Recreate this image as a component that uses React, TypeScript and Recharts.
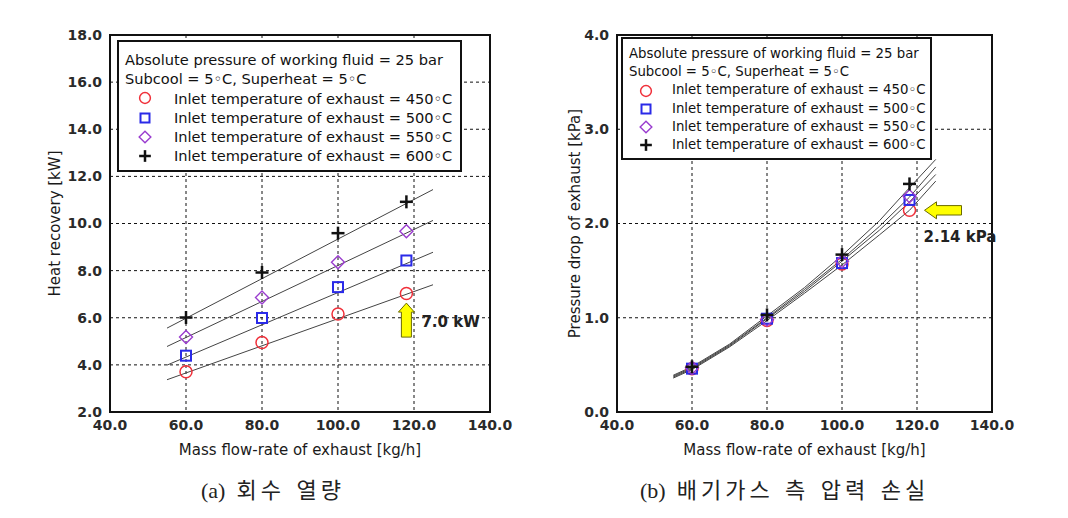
import React from 'react';
import { ComposedChart, Scatter, XAxis, YAxis, CartesianGrid, ReferenceArea, ReferenceDot, Legend } from 'recharts';

// flow-rate points (kg/h)
const flowRates = [60, 80, 100, 118];

// (a) heat recovery [kW]
const heat450 = [3.71, 4.95, 6.16, 7.03];
const heat500 = [4.39, 5.99, 7.3, 8.43];
const heat550 = [5.18, 6.86, 8.36, 9.67];
const heat600 = [6.01, 7.92, 9.59, 10.92];

// (a) fitted lines, read at both ends
const fitX = [55, 125];
const heatFit450 = [3.37, 7.4];
const heatFit500 = [3.99, 8.78];
const heatFit550 = [4.78, 10.13];
const heatFit600 = [5.56, 11.44];

// (b) pressure drop [kPa]
const drop450 = [0.46, 0.97, 1.57, 2.14];
const drop500 = [0.46, 0.99, 1.58, 2.25];
const drop550 = [0.47, 0.98, 1.6, 2.29];
const drop600 = [0.48, 1.03, 1.67, 2.42];

// (b) fitted curves
const curveX = [55, 60, 70, 80, 90, 100, 110, 118, 125];
const dropFit450 = [0.36, 0.45, 0.69, 0.97, 1.26, 1.56, 1.88, 2.14, 2.45];
const dropFit500 = [0.37, 0.46, 0.7, 0.99, 1.28, 1.6, 1.93, 2.23, 2.52];
const dropFit550 = [0.38, 0.47, 0.71, 1.0, 1.3, 1.62, 1.97, 2.28, 2.6];
const dropFit600 = [0.39, 0.48, 0.72, 1.02, 1.32, 1.66, 2.03, 2.38, 2.68];

const xTicks = [40, 60, 80, 100, 120, 140];
const heatTicks = [2, 4, 6, 8, 10, 12, 14, 16, 18];
const dropTicks = [0, 1, 2, 3, 4];
const inletTemps = ['450', '500', '550', '600'];
const markerKinds = ['circle', 'square', 'diamond', 'plus'];

const FONT = "'DejaVu Sans', Verdana, sans-serif";

const toPoints = (xs: number[], ys: number[]) => xs.map((x, i) => ({ x, y: ys[i] }));

const Marker = ({ kind, cx, cy, s = 1 }: { kind: string; cx: number; cy: number; s?: number }) => {
  if (kind === 'circle') return <circle cx={cx} cy={cy} r={6 * s} fill="none" stroke="#f0303a" strokeWidth={1.5} />;
  if (kind === 'square')
    return <rect x={cx - 5 * s} y={cy - 5 * s} width={10 * s} height={10 * s} fill="none" stroke="#2a2ae8" strokeWidth={2} />;
  if (kind === 'diamond') {
    const d = 6.5 * s;
    return (
      <polygon
        points={`${cx},${cy - d} ${cx + d},${cy} ${cx},${cy + d} ${cx - d},${cy}`}
        fill="none"
        stroke="#9a3ccf"
        strokeWidth={1.4}
      />
    );
  }
  const a = 6.5 * s;
  return (
    <g stroke="#111" strokeWidth={2.5}>
      <line x1={cx - a} y1={cy} x2={cx + a} y2={cy} />
      <line x1={cx} y1={cy - a} x2={cx} y2={cy + a} />
    </g>
  );
};

const LegendBox = ({ fs, lh, markX, textX, padTop }: { fs: number; lh: number; markX: number; textX: number; padTop: number }) => (
  <div
    style={{
      border: '2px solid #111',
      background: '#fff',
      fontFamily: FONT,
      fontSize: fs,
      color: '#111',
      lineHeight: `${lh}px`,
      padding: `${padTop}px 0 4px 6px`,
      whiteSpace: 'nowrap',
    }}
  >
    <div>Absolute pressure of working fluid = 25 bar</div>
    <div>Subcool = 5◦C, Superheat = 5◦C</div>
    {inletTemps.map((t, i) => (
      <div key={t} style={{ position: 'relative', height: lh }}>
        <svg width={18} height={18} style={{ position: 'absolute', left: markX - 9 - 6, top: lh / 2 - 9 }}>
          <Marker kind={markerKinds[i]} cx={9} cy={9} s={0.9} />
        </svg>
        <span style={{ position: 'absolute', left: textX - 6 }}>Inlet temperature of exhaust = {t}◦C</span>
      </div>
    ))}
  </div>
);

const tickStyle = { fontFamily: FONT, fontSize: 14, fontWeight: 'bold', fill: '#2a2a2a' };
const titleStyle = { fontFamily: FONT, fontSize: 15, fill: '#1a1a1a', textAnchor: 'middle' as const };

const fmt = (v: number) => v.toFixed(1);

const UpArrow = (p: any) => {
  const { cx, cy } = p;
  return (
    <g>
      <polygon
        points={`${cx},${cy - 17} ${cx + 8},${cy - 8} ${cx + 5},${cy - 8} ${cx + 5},${cy + 17} ${cx - 5},${cy + 17} ${cx - 5},${cy - 8} ${cx - 8},${cy - 8}`}
        fill="#ffff00"
        stroke="#6b6b00"
        strokeWidth={1}
      />
      <text x={cx + 15} y={cy + 7} fontFamily={FONT} fontWeight="bold" fontSize={15} fill="#222">
        7.0 kW
      </text>
    </g>
  );
};

const LeftArrow = (p: any) => {
  const { cx, cy } = p;
  return (
    <g>
      <polygon
        points={`${cx + 15},${cy} ${cx + 27},${cy - 8.5} ${cx + 27},${cy - 4.7} ${cx + 52},${cy - 4.7} ${cx + 52},${cy + 4.7} ${cx + 27},${cy + 4.7} ${cx + 27},${cy + 8.5}`}
        fill="#ffff00"
        stroke="#6b6b00"
        strokeWidth={1}
      />
      <text x={cx + 14} y={cy + 32} fontFamily={FONT} fontWeight="bold" fontSize={15} fill="#222">
        2.14 kPa
      </text>
    </g>
  );
};

const none = () => <g />;

const HeatChart = () => {
  const fits = [heatFit450, heatFit500, heatFit550, heatFit600];
  const pts = [heat450, heat500, heat550, heat600];
  return (
    <ComposedChart width={520} height={470} margin={{ top: 35, right: 30, bottom: 13, left: 50 }}>
      <CartesianGrid stroke="#111" strokeDasharray="3 3" />
      <XAxis
        type="number"
        dataKey="x"
        domain={[40, 140]}
        ticks={xTicks}
        tickFormatter={fmt}
        tick={tickStyle}
        tickLine={false}
        axisLine={false}
        height={45}
        label={{ value: 'Mass flow-rate of exhaust [kg/h]', position: 'insideBottom', offset: 2, style: titleStyle }}
      />
      <YAxis
        type="number"
        dataKey="y"
        domain={[2, 18]}
        ticks={heatTicks}
        tickFormatter={fmt}
        tick={tickStyle}
        tickLine={false}
        axisLine={false}
        width={60}
        label={{ value: 'Heat recovery [kW]', angle: -90, position: 'insideLeft', offset: 5, style: titleStyle }}
      />
      <ReferenceArea x1={40} x2={140} y1={2} y2={18} fill="none" stroke="#111" strokeWidth={2} ifOverflow="visible" />
      {fits.map((f, i) => (
        <Scatter key={`f${i}`} data={toPoints(fitX, f)} dataKey="y" line={{ stroke: '#444', strokeWidth: 1 }} shape={none} isAnimationActive={false} legendType="none" />
      ))}
      {pts.map((v, i) => (
        <Scatter
          key={`p${i}`}
          data={toPoints(flowRates, v)}
          dataKey="y"
          shape={(p: any) => <Marker kind={markerKinds[i]} cx={p.cx} cy={p.cy} />}
          isAnimationActive={false}
          legendType="none"
        />
      ))}
      <ReferenceDot x={118} y={5.9} shape={UpArrow} ifOverflow="visible" />
      <Legend
        layout="vertical"
        align="center"
        verticalAlign="middle"
        wrapperStyle={{ left: 117, top: 40, width: 345 }}
        content={() => <LegendBox fs={14.6} lh={19.3} markX={26} textX={55} padTop={8} />}
      />
    </ComposedChart>
  );
};

const DropChart = () => {
  const fits = [dropFit450, dropFit500, dropFit550, dropFit600];
  const pts = [drop450, drop500, drop550, drop600];
  return (
    <ComposedChart width={520} height={470} margin={{ top: 35, right: 35, bottom: 13, left: 50 }}>
      <CartesianGrid stroke="#111" strokeDasharray="3 3" />
      <XAxis
        type="number"
        dataKey="x"
        domain={[40, 140]}
        ticks={xTicks}
        tickFormatter={fmt}
        tick={tickStyle}
        tickLine={false}
        axisLine={false}
        height={45}
        label={{ value: 'Mass flow-rate of exhaust [kg/h]', position: 'insideBottom', offset: 2, style: titleStyle }}
      />
      <YAxis
        type="number"
        dataKey="y"
        domain={[0, 4]}
        ticks={dropTicks}
        tickFormatter={fmt}
        tick={tickStyle}
        tickLine={false}
        axisLine={false}
        width={60}
        label={{ value: 'Pressure drop of exhaust [kPa]', angle: -90, position: 'insideLeft', offset: 18, style: titleStyle }}
      />
      <ReferenceArea x1={40} x2={140} y1={0} y2={4} fill="none" stroke="#111" strokeWidth={2} ifOverflow="visible" />
      {fits.map((f, i) => (
        <Scatter key={`f${i}`} data={toPoints(curveX, f)} dataKey="y" line={{ stroke: '#444', strokeWidth: 1 }} shape={none} isAnimationActive={false} legendType="none" />
      ))}
      {pts.map((v, i) => (
        <Scatter
          key={`p${i}`}
          data={toPoints(flowRates, v)}
          dataKey="y"
          shape={(p: any) => <Marker kind={markerKinds[i]} cx={p.cx} cy={p.cy} />}
          isAnimationActive={false}
          legendType="none"
        />
      ))}
      <ReferenceDot x={118} y={2.14} shape={LeftArrow} ifOverflow="visible" />
      <Legend
        layout="vertical"
        align="center"
        verticalAlign="middle"
        wrapperStyle={{ left: 114, top: 37, width: 311 }}
        content={() => <LegendBox fs={13.3} lh={18.2} markX={23} textX={49} padTop={6} />}
      />
    </ComposedChart>
  );
};

const captionStyle: React.CSSProperties = {
  position: 'absolute',
  top: 472,
  fontFamily: "'Liberation Serif', 'Noto Sans CJK KR', serif",
  fontSize: 22,
  color: '#222',
  whiteSpace: 'nowrap',
};
const hangulStyle: React.CSSProperties = { letterSpacing: 4, wordSpacing: 2, marginLeft: 11 };

export default function App() {
  return (
    <div style={{ position: 'absolute', left: 0, top: 0, width: 1068, height: 518, background: '#fff', overflow: 'hidden' }}>
      <div style={{ position: 'absolute', left: 0, top: 0 }}>
        <HeatChart />
      </div>
      <div style={{ position: 'absolute', left: 507, top: 0 }}>
        <DropChart />
      </div>
      <div style={{ ...captionStyle, left: 201 }}>
        (a)<span style={hangulStyle}>회수 열량</span>
      </div>
      <div style={{ ...captionStyle, left: 640 }}>
        (b)<span style={hangulStyle}>배기가스 측 압력 손실</span>
      </div>
    </div>
  );
}
